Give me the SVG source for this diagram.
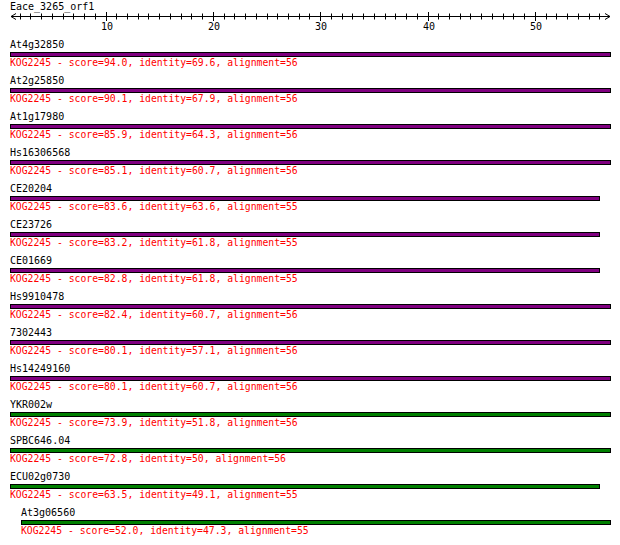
<svg xmlns="http://www.w3.org/2000/svg" width="620" height="545" viewBox="0 0 620 545">
<style>
.lbl{font-family:"DejaVu Sans Mono","Liberation Mono",monospace;font-size:10px;fill:#000}
.sc{font-family:"DejaVu Sans Mono","Liberation Mono",monospace;font-size:9.75px;fill:#ff0000}
.ax{stroke:#000;stroke-width:1;fill:none}
.pu{fill:#800080;stroke:#000;stroke-width:1}
.gr{fill:#008000;stroke:#000;stroke-width:1}
</style>
<rect width="620" height="545" fill="#fff"/>
<g id="axis">
<text class="lbl" x="10" y="10">Eace_3265_orf1</text>
<path class="ax" d="M11,16.5H610M16,13.5L11,16.5L16,19.5M605,13.5L610,16.5L605,19.5"/>
<path class="ax" d="M20.5,13.5V19.5M30.5,13.5V19.5M41.5,13.5V19.5M52.5,13.5V19.5M63.5,13.5V19.5M73.5,13.5V19.5M84.5,13.5V19.5M95.5,13.5V19.5M116.5,13.5V19.5M127.5,13.5V19.5M138.5,13.5V19.5M148.5,13.5V19.5M159.5,13.5V19.5M170.5,13.5V19.5M181.5,13.5V19.5M191.5,13.5V19.5M202.5,13.5V19.5M224.5,13.5V19.5M234.5,13.5V19.5M245.5,13.5V19.5M256.5,13.5V19.5M267.5,13.5V19.5M277.5,13.5V19.5M288.5,13.5V19.5M299.5,13.5V19.5M309.5,13.5V19.5M331.5,13.5V19.5M342.5,13.5V19.5M352.5,13.5V19.5M363.5,13.5V19.5M374.5,13.5V19.5M385.5,13.5V19.5M395.5,13.5V19.5M406.5,13.5V19.5M417.5,13.5V19.5M438.5,13.5V19.5M449.5,13.5V19.5M460.5,13.5V19.5M470.5,13.5V19.5M481.5,13.5V19.5M492.5,13.5V19.5M503.5,13.5V19.5M513.5,13.5V19.5M524.5,13.5V19.5M546.5,13.5V19.5M556.5,13.5V19.5M567.5,13.5V19.5M578.5,13.5V19.5M589.5,13.5V19.5M599.5,13.5V19.5"/>
<path class="ax" d="M106.5,12V21M213.5,12V21M320.5,12V21M428.5,12V21M535.5,12V21"/>
<g class="lbl" text-anchor="middle">
<text x="107" y="30">10</text>
<text x="214" y="30">20</text>
<text x="321" y="30">30</text>
<text x="429" y="30">40</text>
<text x="536" y="30">50</text>
</g>
</g>
<g id="row1"><text class="lbl" x="10" y="48">At4g32850</text><rect class="pu" x="10.5" y="52.5" width="600" height="4"/><text class="sc" x="10" y="66">KOG2245 - score=94.0, identity=69.6, alignment=56</text></g>
<g id="row2"><text class="lbl" x="10" y="84">At2g25850</text><rect class="pu" x="10.5" y="88.5" width="600" height="4"/><text class="sc" x="10" y="102">KOG2245 - score=90.1, identity=67.9, alignment=56</text></g>
<g id="row3"><text class="lbl" x="10" y="120">At1g17980</text><rect class="pu" x="10.5" y="124.5" width="600" height="4"/><text class="sc" x="10" y="138">KOG2245 - score=85.9, identity=64.3, alignment=56</text></g>
<g id="row4"><text class="lbl" x="10" y="156">Hs16306568</text><rect class="pu" x="10.5" y="160.5" width="600" height="4"/><text class="sc" x="10" y="174">KOG2245 - score=85.1, identity=60.7, alignment=56</text></g>
<g id="row5"><text class="lbl" x="10" y="192">CE20204</text><rect class="pu" x="10.5" y="196.5" width="589" height="4"/><text class="sc" x="10" y="210">KOG2245 - score=83.6, identity=63.6, alignment=55</text></g>
<g id="row6"><text class="lbl" x="10" y="228">CE23726</text><rect class="pu" x="10.5" y="232.5" width="589" height="4"/><text class="sc" x="10" y="246">KOG2245 - score=83.2, identity=61.8, alignment=55</text></g>
<g id="row7"><text class="lbl" x="10" y="264">CE01669</text><rect class="pu" x="10.5" y="268.5" width="589" height="4"/><text class="sc" x="10" y="282">KOG2245 - score=82.8, identity=61.8, alignment=55</text></g>
<g id="row8"><text class="lbl" x="10" y="300">Hs9910478</text><rect class="pu" x="10.5" y="304.5" width="600" height="4"/><text class="sc" x="10" y="318">KOG2245 - score=82.4, identity=60.7, alignment=56</text></g>
<g id="row9"><text class="lbl" x="10" y="336">7302443</text><rect class="pu" x="10.5" y="340.5" width="600" height="4"/><text class="sc" x="10" y="354">KOG2245 - score=80.1, identity=57.1, alignment=56</text></g>
<g id="row10"><text class="lbl" x="10" y="372">Hs14249160</text><rect class="pu" x="10.5" y="376.5" width="600" height="4"/><text class="sc" x="10" y="390">KOG2245 - score=80.1, identity=60.7, alignment=56</text></g>
<g id="row11"><text class="lbl" x="10" y="408">YKR002w</text><rect class="gr" x="10.5" y="412.5" width="600" height="4"/><text class="sc" x="10" y="426">KOG2245 - score=73.9, identity=51.8, alignment=56</text></g>
<g id="row12"><text class="lbl" x="10" y="444">SPBC646.04</text><rect class="gr" x="10.5" y="448.5" width="600" height="4"/><text class="sc" x="10" y="462">KOG2245 - score=72.8, identity=50, alignment=56</text></g>
<g id="row13"><text class="lbl" x="10" y="480">ECU02g0730</text><rect class="gr" x="10.5" y="484.5" width="589" height="4"/><text class="sc" x="10" y="498">KOG2245 - score=63.5, identity=49.1, alignment=55</text></g>
<g id="row14"><text class="lbl" x="21" y="516">At3g06560</text><rect class="gr" x="21.5" y="520.5" width="589" height="4"/><text class="sc" x="21" y="534">KOG2245 - score=52.0, identity=47.3, alignment=55</text></g>
</svg>
